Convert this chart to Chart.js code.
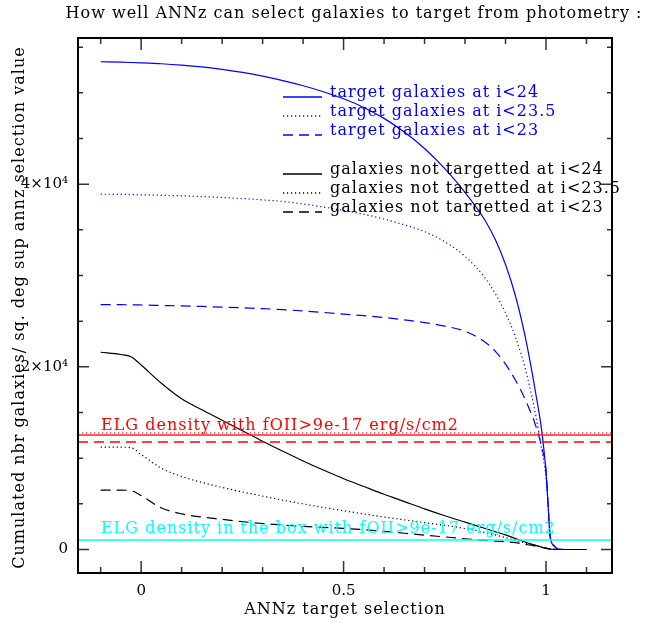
<!DOCTYPE html>
<html>
<head>
<meta charset="utf-8">
<script src="https://cdn.jsdelivr.net/npm/chart.js@4"></script>
<style>
  html, body { margin: 0; padding: 0; background: #fff; }
  canvas { display: block; }
</style>
</head>
<body>
<canvas id="annzChart" width="651" height="623"></canvas>
<script>
// ANNz selection value (x) and cumulated counts per sq. deg (y)
const xSel = [-0.1, -0.05, -0.025, 0, 0.05, 0.1, 0.15, 0.2, 0.25, 0.3, 0.35, 0.4, 0.45, 0.5,
  0.55, 0.6, 0.65, 0.7, 0.75, 0.8, 0.85, 0.875, 0.9, 0.925, 0.95, 0.975, 0.99, 1.0,
  1.005, 1.01, 1.02, 1.03, 1.05, 1.1];

// target galaxies
const tgt24 = [53400, 53350, 53320, 53280, 53180, 53030, 52830, 52570, 52230, 51820, 51330, 50770, 50120, 49350,
  48400, 47200, 45700, 43900, 41700, 39100, 36000, 33900, 31200, 27700, 23000, 17000, 12800, 8500,
  5000, 1500, 400, 50, 0, 0];
const tgt235 = [38900, 38880, 38860, 38830, 38780, 38720, 38640, 38540, 38420, 38280, 38100, 37830, 37500, 37120,
  36700, 36180, 35550, 34800, 33700, 32100, 29700, 28000, 25900, 23200, 19600, 14600, 10800, 7800,
  5000, 1500, 400, 50, 0, 0];
const tgt23 = [26800, 26800, 26790, 26770, 26720, 26670, 26610, 26540, 26460, 26370, 26260, 26120, 25960, 25780,
  25600, 25400, 25150, 24850, 24450, 23900, 22700, 21700, 20300, 18500, 16300, 13500, 11100, 8700,
  5000, 1500, 400, 50, 0, 0];

// galaxies not targetted
const not24 = [21600, 21350, 21100, 20200, 18200, 16500, 15300, 14150, 13000, 11850, 10750, 9700, 8700, 7750,
  6900, 6050, 5250, 4450, 3700, 3000, 2300, 1950, 1600, 1200, 800, 450, 250, 150,
  100, 60, 20, 0, 0, 0];
const not235 = [11200, 11200, 11150, 10400, 8900, 8000, 7350, 6800, 6300, 5850, 5400, 5000, 4600, 4250,
  3900, 3550, 3250, 2950, 2650, 2300, 1850, 1600, 1300, 1000, 700, 400, 250, 150,
  100, 60, 20, 0, 0, 0];
const not23 = [6500, 6500, 6450, 5900, 4550, 3900, 3550, 3300, 3050, 2850, 2680, 2530, 2420, 2310,
  2170, 1980, 1780, 1580, 1380, 1180, 1000, 920, 850, 750, 560, 360, 220, 150,
  100, 60, 20, 0, 0, 0];

// ELG reference densities
const elgSolid = 12540;
const elgDotted = 12760;
const elgDashed = 11770;
const elgBox = 1040;

// axis ranges and tick values
const xMin = -0.156, xMax = 1.163;
const yMin = -2570, yMax = 56000;
const yTicks = [0, 5000, 10000, 15000, 20000, 25000, 30000, 35000, 40000, 45000, 50000, 55000];

const FONT = '"DejaVu Serif", "Liberation Serif", serif';
const DOT = [1.2, 2.8];
const DASH = [10, 6];

function pts(ys) {
  return xSel.map((x, i) => ({ x: x, y: ys[i] }));
}
function hline(v) {
  return [{ x: xMin, y: v }, { x: xMax, y: v }];
}
function curve(data, color, dash) {
  return {
    data: data, borderColor: color, borderWidth: 1.2, borderDash: dash,
    pointRadius: 0, fill: false, cubicInterpolationMode: 'monotone'
  };
}

const legendRows = [
  { y: 93, color: '#0000ff', dash: [], text: 'target galaxies at i<24' },
  { y: 112, color: '#0000ff', dash: DOT, text: 'target galaxies at i<23.5' },
  { y: 131, color: '#0000ff', dash: DASH, text: 'target galaxies at i<23' },
  { y: 170, color: '#000000', dash: [], text: 'galaxies not targetted at i<24' },
  { y: 189, color: '#000000', dash: DOT, text: 'galaxies not targetted at i<23.5' },
  { y: 208, color: '#000000', dash: DASH, text: 'galaxies not targetted at i<23' }
];

// frame, inward ticks and all free text, PGPLOT style
const pgFrame = {
  id: 'pgFrame',
  afterDraw(chart) {
    const ctx = chart.ctx;
    const a = chart.chartArea;
    const sx = chart.scales.x, sy = chart.scales.y;
    ctx.save();

    ctx.strokeStyle = '#333';
    ctx.lineWidth = 1.5;
    sx.ticks.forEach(t => {
      const px = sx.getPixelForValue(t.value);
      const major = Math.abs(t.value * 2 - Math.round(t.value * 2)) < 1e-6;
      const len = major ? 12 : 6;
      ctx.beginPath();
      ctx.moveTo(px, a.bottom); ctx.lineTo(px, a.bottom - len);
      ctx.moveTo(px, a.top); ctx.lineTo(px, a.top + len);
      ctx.stroke();
    });
    sy.ticks.forEach(t => {
      const py = sy.getPixelForValue(t.value);
      const major = t.value % 20000 === 0;
      const len = major ? 11 : 5;
      ctx.beginPath();
      ctx.moveTo(a.left, py); ctx.lineTo(a.left + len, py);
      ctx.moveTo(a.right, py); ctx.lineTo(a.right - len, py);
      ctx.stroke();
    });

    ctx.strokeStyle = '#000';
    ctx.lineWidth = 2;
    ctx.strokeRect(a.left, a.top, a.right - a.left, a.bottom - a.top);

    ctx.font = '16px ' + FONT;
    ctx.letterSpacing = '1px';
    ctx.textBaseline = 'middle';

    // title and axis titles
    ctx.fillStyle = '#000';
    ctx.textAlign = 'center';
    ctx.fillText('How well ANNz can select galaxies to target from photometry :', 354, 14);
    ctx.fillText('ANNz target selection', (a.left + a.right) / 2, 610);
    ctx.save();
    ctx.translate(20, (a.top + a.bottom) / 2 + 2);
    ctx.rotate(-Math.PI / 2);
    ctx.fillText('Cumulated nbr galaxies/ sq. deg sup annz selection value', 0, 0);
    ctx.restore();

    // legend
    ctx.textAlign = 'left';
    legendRows.forEach(r => {
      ctx.strokeStyle = r.color;
      ctx.lineWidth = 1.3;
      ctx.setLineDash(r.dash);
      ctx.beginPath();
      ctx.moveTo(283, r.y + 4); ctx.lineTo(322, r.y + 4);
      ctx.stroke();
      ctx.setLineDash([]);
      ctx.fillStyle = r.color;
      ctx.fillText(r.text, 330, r.y);
    });

    // ELG annotations
    ctx.fillStyle = '#ff0000';
    ctx.fillText('ELG density with fOII>9e-17 erg/s/cm2', 101, 426);
    ctx.fillStyle = '#00ffff';
    ctx.fillText('ELG density in the box with fOII>9e-17 erg/s/cm2', 101, 529);

    ctx.restore();
  }
};

Chart.defaults.color = '#000';
Chart.defaults.font.family = FONT;
Chart.defaults.font.size = 15;

new Chart(document.getElementById('annzChart'), {
  type: 'line',
  data: {
    datasets: [
      { data: hline(elgSolid), borderColor: '#ff2020', borderWidth: 1.5, pointRadius: 0 },
      { data: hline(elgDotted), borderColor: '#ff2020', borderWidth: 1.2, borderDash: DOT, pointRadius: 0 },
      { data: hline(elgDashed), borderColor: '#ff0000', borderWidth: 1.3, borderDash: DASH, pointRadius: 0 },
      { data: hline(elgBox), borderColor: '#00ffff', borderWidth: 1.6, pointRadius: 0 },
      curve(pts(not24), '#000000', []),
      curve(pts(not235), '#000000', DOT),
      curve(pts(not23), '#000000', DASH),
      curve(pts(tgt23), '#0000ff', DASH),
      curve(pts(tgt235), '#0000ff', DOT),
      curve(pts(tgt24), '#0000ff', [])
    ]
  },
  options: {
    responsive: false,
    animation: false,
    devicePixelRatio: 1,
    layout: { padding: { top: 38, right: 39, left: 0, bottom: 0 } },
    plugins: { legend: { display: false }, tooltip: { enabled: false } },
    scales: {
      x: {
        type: 'linear', min: xMin, max: xMax,
        grid: { display: false, drawTicks: false },
        border: { display: false },
        ticks: {
          stepSize: 0.1, includeBounds: false, autoSkip: false, maxRotation: 0, padding: 9,
          callback: v => {
            if (Math.abs(v) < 1e-9) return '0';
            if (Math.abs(v - 0.5) < 1e-9) return '0.5';
            if (Math.abs(v - 1) < 1e-9) return '1';
            return '';
          }
        },
        afterFit: s => { s.height = 50; }
      },
      y: {
        type: 'linear', min: yMin, max: yMax,
        grid: { display: false, drawTicks: false },
        border: { display: false },
        afterBuildTicks: s => { s.ticks = yTicks.map(v => ({ value: v })); },
        ticks: {
          autoSkip: false, padding: 10,
          callback: v => {
            if (v === 0) return '0';
            if (v === 20000) return '2×10⁴';
            if (v === 40000) return '4×10⁴';
            return '';
          }
        },
        afterFit: s => { s.width = 78; }
      }
    }
  },
  plugins: [pgFrame]
});
</script>
</body>
</html>
